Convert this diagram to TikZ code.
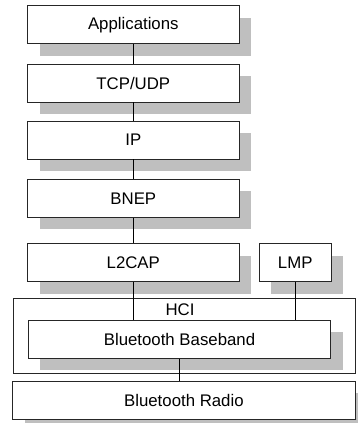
\documentclass[tikz,border=0pt]{standalone}
\usepackage{fontspec}
\setmainfont{Liberation Sans}
\usetikzlibrary{shadows}
\definecolor{shadowgray}{gray}{0.75}

\begin{document}
\begin{tikzpicture}[x=1pt,y=-1pt,line width=0.75pt,font=\fontsize{16.8}{19}\selectfont]
  \tikzstyle{layer}=[draw=black!85, fill=white, minimum height=38pt, inner sep=0pt,
    general shadow={fill=shadowgray, draw=none, shadow xshift=12pt, shadow yshift=-12pt}]
  \tikzstyle{frame}=[draw=black!85, fill=white, inner sep=0pt]
  \useasboundingbox (0,0) rectangle (357,423);

  \node[frame, minimum width=342.5pt, minimum height=75pt] (hci) at (184.5,335.8) {};
  \node[layer, minimum width=211.3pt] (app) at (133.3,24.7) {Applications};
  \node[layer, minimum width=211.3pt] (tcp) at (133.3,83) {TCP/UDP};
  \node[layer, minimum width=211.3pt] (ip) at (133.3,140) {IP};
  \node[layer, minimum width=211.3pt] (bnep) at (133.3,198.3) {BNEP};
  \node[layer, minimum width=211.3pt] (l2cap) at (133.3,262.5) {L2CAP};
  \node[layer, minimum width=71.7pt] (lmp) at (295.2,262.5) {LMP};
  \node[layer, minimum width=302.4pt] (base) at (179.5,339.2) {Bluetooth Baseband};
  \node (hcilabel) at (180,310) {HCI};
  \node[layer, minimum width=342.3pt] (radio) at (183.9,400) {Bluetooth Radio};

  \draw (app) -- (tcp);
  \draw (tcp) -- (ip);
  \draw (ip) -- (bnep);
  \draw (bnep) -- (l2cap);
  \draw (l2cap) -- (l2cap |- base.north);
  \draw (lmp) -- (lmp |- base.north);
  \draw (base) -- (base |- radio.north);
\end{tikzpicture}
\end{document}
